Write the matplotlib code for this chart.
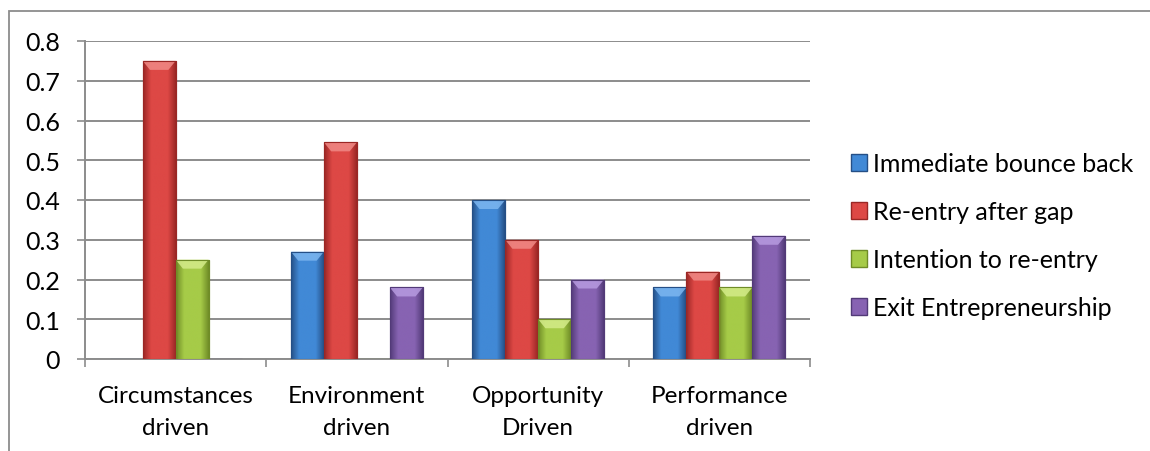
import matplotlib
matplotlib.use("Agg")
import matplotlib.pyplot as plt
import numpy as np
from matplotlib.colors import LinearSegmentedColormap
from matplotlib.patches import Patch, Polygon, Rectangle

categories = ["Circumstances\ndriven", "Environment\ndriven", "Opportunity\nDriven", "Performance\ndriven"]
series_names = ["Immediate bounce back", "Re-entry after gap", "Intention to re-entry", "Exit Entrepreneurship"]
bounce_back = [0.0, 0.27, 0.40, 0.18]
reentry_gap = [0.75, 0.545, 0.30, 0.22]
intention = [0.25, 0.0, 0.10, 0.18]
exit_ent = [0.0, 0.18, 0.20, 0.31]
y_ticks = [0, 0.1, 0.2, 0.3, 0.4, 0.5, 0.6, 0.7, 0.8]

series = [bounce_back, reentry_gap, intention, exit_ent]
# (edge shade, centre shade, bevel highlight)
palette = [
    ("#254f86", "#4189d6", "#7db6f0"),
    ("#9a2725", "#dd4845", "#f08a86"),
    ("#6f8c27", "#a6cb48", "#d4ec8a"),
    ("#523a78", "#8763b2", "#b79be0"),
]
grid_gray = "#8c8c8c"

plt.rcParams["font.family"] = ["Lato", "DejaVu Sans"]
W, H = 1150, 452
fig = plt.figure(figsize=(W / 100, H / 100), dpi=100)
ax = fig.add_axes([85 / W, (H - 360) / H, (810 - 85) / W, (360 - 42) / H])

n_cat = len(categories)
n_ser = len(series)
bar_w = 1 / 5.5
x = np.arange(n_cat)
px_per_unit = 318 / 0.8
bevel_h = 9 / px_per_unit

for i, (vals, (dark, mid, light)) in enumerate(zip(series, palette)):
    offs = (i - (n_ser - 1) / 2) * bar_w
    bars = ax.bar(x + offs, vals, width=bar_w, color=mid, edgecolor=dark,
                  linewidth=0.8, zorder=3)
    cmap = LinearSegmentedColormap.from_list(f"s{i}", [dark, mid, mid, mid, dark], N=256)
    grad = np.linspace(0, 1, 256).reshape(1, -1)
    for b, v in zip(bars, vals):
        if v <= 0:
            continue
        x0 = b.get_x()
        x1 = x0 + b.get_width()
        im = ax.imshow(grad, cmap=cmap, extent=(x0, x1, 0, v), aspect="auto",
                       zorder=3.5, interpolation="bilinear")
        im.set_clip_path(b)
        inset = b.get_width() * 0.22
        ax.add_patch(Polygon([(x0, v), (x1, v), (x1 - inset, v - bevel_h),
                              (x0 + inset, v - bevel_h)], closed=True,
                             facecolor=light, edgecolor="none", alpha=0.85, zorder=4))
        ax.add_patch(Rectangle((x0, 0), b.get_width(), v, facecolor="none",
                               edgecolor=dark, linewidth=0.8, zorder=4.5))

ax.set_xlim(-0.5, n_cat - 0.5)
ax.set_ylim(0, 0.8)
ax.set_yticks(y_ticks)
ax.set_yticklabels(["0"] + [f"{t:g}" for t in y_ticks[1:]])
ax.yaxis.grid(True, color=grid_gray, linewidth=1.4, zorder=1)
ax.set_axisbelow(True)
ax.set_xticks(np.arange(n_cat + 1) - 0.5, minor=True)
ax.set_xticks(x)
ax.set_xticklabels(categories, linespacing=1.6)
ax.tick_params(axis="x", which="major", length=0, pad=19, labelsize=17.5)
ax.tick_params(axis="x", which="minor", length=6, width=1.2, color=grid_gray)
ax.tick_params(axis="y", length=6, width=1.2, color=grid_gray, pad=12, labelsize=18)
for side in ("top", "right"):
    ax.spines[side].set_visible(False)
for side in ("left", "bottom"):
    ax.spines[side].set_color(grid_gray)
    ax.spines[side].set_linewidth(1.4)

handles = [Patch(facecolor=p[1], edgecolor=p[0]) for p in palette]
fig.legend(handles, series_names, loc="center left",
           bbox_to_anchor=(851 / W, 1 - 237 / H), bbox_transform=fig.transFigure,
           frameon=False, fontsize=18, handlelength=0.64, handleheight=0.64,
           handletextpad=0.25, labelspacing=1.0, borderpad=0, borderaxespad=0)

fig.add_artist(Rectangle((9 / W, -0.1), 1.2, 1.1 - 12 / H, transform=fig.transFigure,
                         facecolor="none", edgecolor=grid_gray, linewidth=1.3))

fig.savefig("out.png", dpi=100)
